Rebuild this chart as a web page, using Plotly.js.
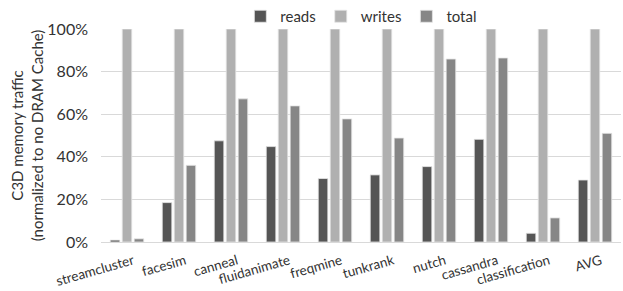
<!DOCTYPE html>
<html><head><meta charset="utf-8">
<script src="https://cdn.plot.ly/plotly-3.0.1.min.js"></script>
<style>html,body{margin:0;padding:0;background:#fff}#c{width:623px;height:291px}</style>
</head><body><div id="c"></div>
<script>
const categories = ["streamcluster","facesim","canneal","fluidanimate","freqmine","tunkrank","nutch","cassandra","classification","AVG"];
const reads  = [0.9, 18.5, 47.5, 44.8, 29.8, 31.5, 35.4, 48.2, 4.1, 29.1];
const writes = [100, 100, 100, 100, 100, 100, 100, 100, 100, 100];
const total  = [1.5, 36.0, 67.2, 63.9, 57.8, 48.8, 85.9, 86.4, 11.3, 51.0];
const yTicks = [0, 20, 40, 60, 80, 100];
const yTickText = yTicks.map(v => v + "%");

const font = "Lato, 'Open Sans', sans-serif";
const mk = (name, y, color) => ({
  type: "bar", name, x: categories, y,
  marker: {color, line: {color: "#e6e6e6", width: 0.8}}
});
const data = [
  mk("reads", reads, "#555555"),
  mk("writes", writes, "#b0b0b0"),
  mk("total", total, "#868686")
];
const layout = {
  width: 623, height: 291,
  margin: {l: 101, r: 2, t: 29, b: 49, autoexpand: false},
  paper_bgcolor: "#fff", plot_bgcolor: "#fff",
  font: {family: font, size: 14, color: "#333"},
  barmode: "group", bargap: 0.31, bargroupgap: 0.2,
  showlegend: true,
  legend: {orientation: "h", xref: "container", x: 0.58, xanchor: "center",
           yref: "container", y: 1.0, yanchor: "top",
           font: {family: font, size: 15, color: "#333"}, itemwidth: 30, tracegroupgap: 0,
           traceorder: "normal", bgcolor: "rgba(0,0,0,0)"},
  xaxis: {tickangle: -16, tickfont: {family: font, size: 13.5, color: "#333"},
          ticklabelshift: 6, ticklabelstandoff: 5,
          showline: true, linecolor: "#d9d9d9", linewidth: 1, ticks: "", automargin: false},
  yaxis: {range: [0, 100], tickvals: yTicks, ticktext: yTickText,
          tickfont: {family: font, size: 16, color: "#333"},
          gridcolor: "#d9d9d9", gridwidth: 1, zeroline: false,
          ticks: "", ticklabelstandoff: 12,
          automargin: true,
          title: {text: "C3D memory traffic<br>(normalized to no DRAM Cache)",
                  font: {family: font, size: 15, color: "#333"}, standoff: 0}}
};
Plotly.newPlot("c", data, layout, {displayModeBar: false, staticPlot: true});
</script></body></html>
